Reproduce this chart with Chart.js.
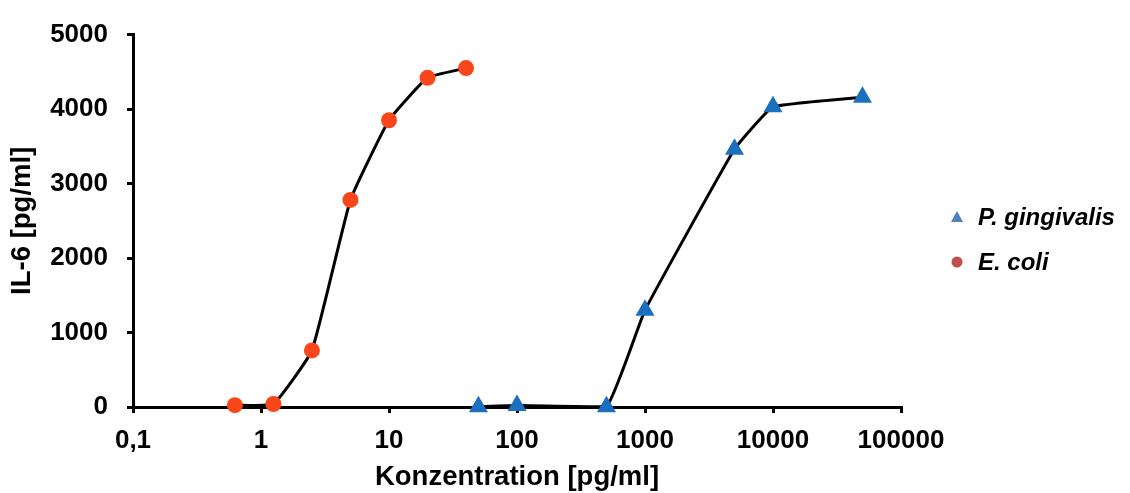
<!DOCTYPE html>
<html>
<head>
<meta charset="utf-8">
<script src="https://cdn.jsdelivr.net/npm/chart.js@4"></script>
<style>
  html, body { margin: 0; padding: 0; background: #fff; }
  #wrap { width: 1130px; height: 493px; }
</style>
</head>
<body>
<div id="wrap"><canvas id="chart" width="1130" height="493"></canvas></div>
<script>
// tick values on the log axis
const xTicks = [0.1, 1, 10, 100, 1000, 10000, 100000];

// E. coli
const coliConc = [0.625, 1.25, 2.5, 5, 10, 20, 40];
const coliIL6 = [25, 40, 760, 2780, 3850, 4420, 4550];

// P. gingivalis
const gingConc = [50, 100, 500, 1000, 5000, 10000, 50000];
const gingIL6 = [5, 20, 5, 1300, 3460, 4030, 4160];

const seriesNames = ['P. gingivalis', 'E. coli'];

const FONT = "'Liberation Sans', Arial, sans-serif";

function toPoints(xs, ys) {
  return xs.map((x, i) => ({ x: x, y: ys[i] }));
}

// legend drawn by hand, Excel-like markers in the legend colours
const legendPlugin = {
  id: 'sideLegend',
  afterDraw(chart) {
    const ctx = chart.ctx;
    const items = [
      { label: seriesNames[0], shape: 'triangle', color: '#4F81BD', y: 217 },
      { label: seriesNames[1], shape: 'circle', color: '#C0504D', y: 262 }
    ];
    ctx.save();
    items.forEach(it => {
      ctx.fillStyle = it.color;
      ctx.beginPath();
      if (it.shape === 'triangle') {
        ctx.moveTo(957, it.y - 6);
        ctx.lineTo(963, it.y + 5);
        ctx.lineTo(951, it.y + 5);
        ctx.closePath();
      } else {
        ctx.arc(957, it.y, 5.5, 0, Math.PI * 2);
      }
      ctx.fill();
      ctx.fillStyle = '#000';
      ctx.font = 'italic bold 24px ' + FONT;
      ctx.textBaseline = 'middle';
      ctx.textAlign = 'left';
      ctx.fillText(it.label, 978, it.y + 1);
    });
    ctx.restore();
  }
};

const chart = new Chart(document.getElementById('chart').getContext('2d'), {
  type: 'line',
  data: {
    datasets: [
      {
        label: seriesNames[0],
        data: toPoints(gingConc, gingIL6),
        borderColor: '#000',
        borderWidth: 3,
        tension: 0.1,
        pointStyle: 'triangle',
        pointRadius: 11,
        pointBackgroundColor: '#1B6FBF',
        pointBorderColor: '#1B6FBF',
        pointBorderWidth: 0,
        clip: false
      },
      {
        label: seriesNames[1],
        data: toPoints(coliConc, coliIL6),
        borderColor: '#000',
        borderWidth: 3,
        tension: 0.12,
        pointStyle: 'circle',
        pointRadius: 8,
        pointBackgroundColor: '#F9461A',
        pointBorderColor: '#F9461A',
        pointBorderWidth: 0,
        clip: false
      }
    ]
  },
  options: {
    responsive: false,
    animation: false,
    layout: { padding: { left: 0, right: 229, top: 25, bottom: 0 } },
    plugins: {
      legend: { display: false },
      tooltip: { enabled: false }
    },
    scales: {
      x: {
        type: 'logarithmic',
        min: 0.1,
        max: 100000,
        afterBuildTicks: scale => { scale.ticks = xTicks.map(v => ({ value: v })); },
        afterFit: scale => { scale.height = 86; },
        border: { display: true, color: '#000', width: 3 },
        grid: { drawOnChartArea: false, drawTicks: true, tickLength: 6, color: '#000', lineWidth: 3 },
        ticks: {
          color: '#000',
          padding: 12,
          maxRotation: 0,
          autoSkip: false,
          font: { family: FONT, size: 26, weight: 'bold' },
          callback: v => String(v).replace('.', ',')
        },
        title: {
          display: true,
          text: 'Konzentration [pg/ml]',
          color: '#000',
          padding: 2,
          font: { family: FONT, size: 27.5, weight: 'bold', lineHeight: 1 }
        }
      },
      y: {
        min: 0,
        max: 5000,
        afterFit: scale => { scale.width = 133; },
        border: { display: true, color: '#000', width: 3 },
        grid: { drawOnChartArea: false, drawTicks: true, tickLength: 6, color: '#000', lineWidth: 3 },
        ticks: {
          stepSize: 1000,
          color: '#000',
          padding: 19,
          font: { family: FONT, size: 26, weight: 'bold' },
          callback: v => String(v)
        },
        title: {
          display: true,
          text: 'IL-6 [pg/ml]',
          color: '#000',
          padding: 9,
          font: { family: FONT, size: 27.5, weight: 'bold', lineHeight: 1 }
        }
      }
    }
  },
  plugins: [legendPlugin]
});
</script>
</body>
</html>
